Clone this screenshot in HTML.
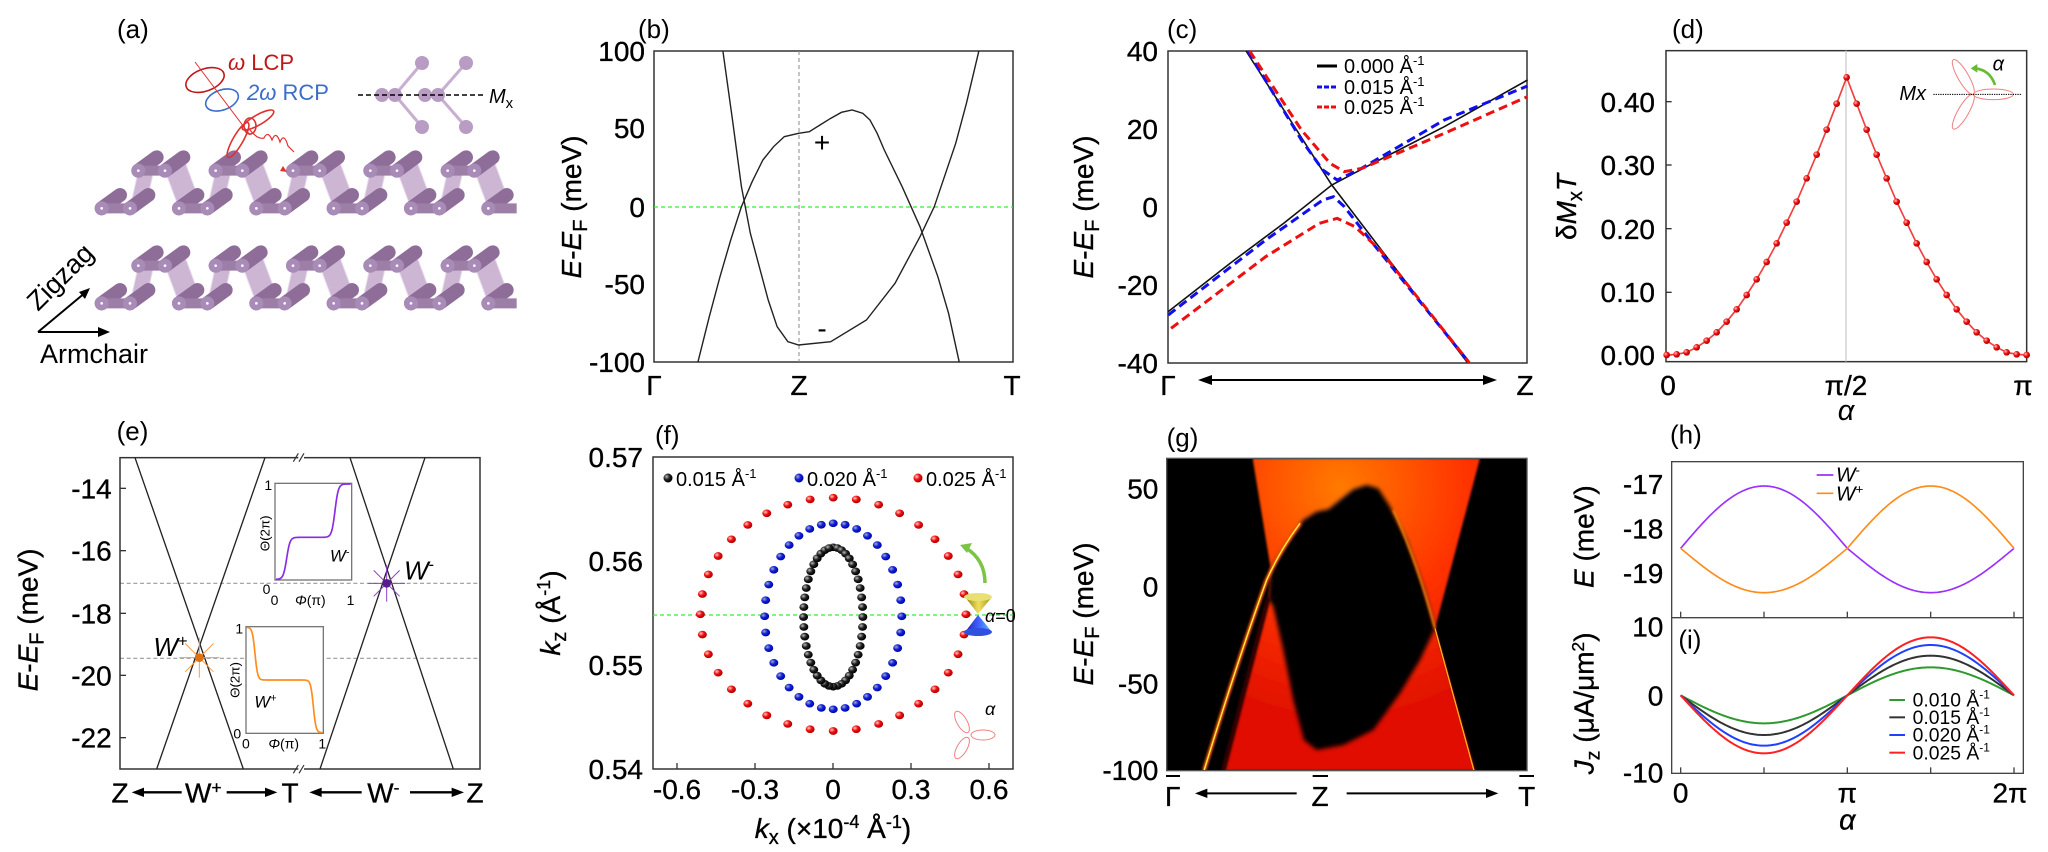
<!DOCTYPE html>
<html><head><meta charset="utf-8"><style>
html,body{margin:0;padding:0;background:#fff}
svg{display:block}
text{font-family:"Liberation Sans",Arial,sans-serif;fill:#000}
.t{font-size:28px;stroke:#000;stroke-width:0.35px}
.it{font-style:italic}
.big{stroke:#000;stroke-width:1px}
</style></head><body>
<svg id="S" width="2048" height="852" viewBox="0 0 2048 852" xmlns="http://www.w3.org/2000/svg">
<defs>
<radialGradient id="gk" cx="35%" cy="35%" r="65%"><stop offset="0" stop-color="#bbb"/><stop offset=".5" stop-color="#222"/><stop offset="1" stop-color="#000"/></radialGradient>
<radialGradient id="gb" cx="35%" cy="35%" r="65%"><stop offset="0" stop-color="#aab"/><stop offset=".5" stop-color="#1020e0"/><stop offset="1" stop-color="#0008a0"/></radialGradient>
<radialGradient id="gr" cx="35%" cy="35%" r="65%"><stop offset="0" stop-color="#fcc"/><stop offset=".5" stop-color="#f01010"/><stop offset="1" stop-color="#b00000"/></radialGradient>
<radialGradient id="gheat" cx="720" cy="260" r="700" gradientUnits="userSpaceOnUse"><stop offset="0" stop-color="#ff7a00"/><stop offset=".55" stop-color="#ff3300"/><stop offset="1" stop-color="#e01000"/></radialGradient>
<filter id="bl" x="-20%" y="-20%" width="140%" height="140%"><feGaussianBlur stdDeviation="6"/></filter>
<filter id="bl2"><feGaussianBlur stdDeviation="3"/></filter>
<clipPath id="gclip"><rect x="200" y="175" width="1081" height="937"/></clipPath>
<linearGradient id="cone1" x1="0" y1="0" x2="1" y2="0"><stop offset="0" stop-color="#8a7a10"/><stop offset=".5" stop-color="#f0e060"/><stop offset="1" stop-color="#a09020"/></linearGradient>
<linearGradient id="cone2" x1="0" y1="0" x2="1" y2="0"><stop offset="0" stop-color="#2020a0"/><stop offset=".5" stop-color="#4060ff"/><stop offset="1" stop-color="#60c0ff"/></linearGradient>
</defs>

<!-- ============ (a) ============ -->
<g id="ga" transform="scale(0.33333)"></g>
<text x="117" y="38" font-size="26">(a)</text>
<text x="228" y="70" font-size="22" style="fill:#c01818"><tspan class="it">ω</tspan> LCP</text>
<text x="247" y="100" font-size="22" style="fill:#3a6ec8"><tspan class="it">2ω</tspan> RCP</text>
<g fill="none" stroke-width="1.6">
<ellipse cx="205" cy="80" rx="20" ry="11" stroke="#c01818" transform="rotate(-20 205 80)"/>
<ellipse cx="222" cy="100" rx="17" ry="10" stroke="#3a6ec8" transform="rotate(-20 222 100)"/>
<line x1="195" y1="62" x2="250" y2="135" stroke="#e03030" stroke-width="1"/>
<ellipse cx="258" cy="120" rx="18" ry="5" stroke="#e03030" transform="rotate(-30 258 120)"/>
<ellipse cx="238" cy="140" rx="20" ry="5" stroke="#e03030" transform="rotate(-60 238 140)"/>
<ellipse cx="250" cy="126" rx="6" ry="8" stroke="#e03030"/>
<path d="M250,130 q8,10 14,8 q4,-8 8,2 q4,-10 8,2 q4,-10 8,4 l6,6" stroke="#e03030" stroke-width="1.2"/>
</g>
<polygon points="283,166 287,172 280,171" fill="#e03030"/>
<g stroke="#c8aed0" stroke-width="3">
<line x1="395" y1="95" x2="422" y2="63"/><line x1="395" y1="95" x2="422" y2="127"/>
<line x1="438" y1="95" x2="466" y2="63"/><line x1="438" y1="95" x2="466" y2="127"/>
</g>
<g fill="#b89cc4">
<circle cx="382" cy="95" r="7"/><circle cx="395" cy="95" r="7"/><circle cx="425" cy="95" r="7"/><circle cx="438" cy="95" r="7"/>
<circle cx="422" cy="63" r="7"/><circle cx="466" cy="63" r="7"/><circle cx="422" cy="127" r="7"/><circle cx="466" cy="127" r="7"/>
</g>
<line x1="358" y1="95" x2="485" y2="95" stroke="#000" stroke-width="1.5" stroke-dasharray="5 3"/>
<text x="489" y="103" font-size="20" class="it">M<tspan font-size="15" dy="5" font-style="normal">x</tspan></text>
<g stroke="#000" stroke-width="2" fill="none">
<line x1="38" y1="332" x2="104" y2="332"/><line x1="38" y1="332" x2="86" y2="292"/>
</g>
<polygon points="110,332 98,327 98,337" fill="#000"/><polygon points="90,288 79,292 85,299" fill="#000"/>
<text x="0" y="0" font-size="27" transform="translate(38,312) rotate(-45)">Zigzag</text>
<text x="40" y="363" font-size="27">Armchair</text>

<!-- ============ (b) ============ -->
<text x="638" y="38" font-size="26">(b)</text>
<rect x="654" y="51" width="359" height="311" fill="none" stroke="#333" stroke-width="1.5"/>
<line x1="654" y1="207" x2="1013" y2="207" stroke="#33ee33" stroke-width="1.2" stroke-dasharray="4 3"/>
<line x1="799" y1="51" x2="799" y2="362" stroke="#888" stroke-width="1" stroke-dasharray="4 3"/>
<g transform="translate(420,0) scale(0.357143,0.333333)" fill="none" stroke="#222" stroke-width="1.4">
<polyline vector-effect="non-scaling-stroke" points="848,152 875,360 900,560 925,700 950,800 975,900 1000,980 1030,1025 1060,1035 1150,1025 1250,960 1330,850 1400,710 1440,620 1500,430 1530,310 1565,152"/>
<polyline vector-effect="non-scaling-stroke" points="778,1087 810,950 840,830 870,720 900,620 930,545 960,480 990,440 1020,410 1060,400 1090,395 1120,375 1150,355 1180,337 1210,330 1240,340 1260,360 1280,400 1300,450 1350,560 1400,680 1450,830 1480,940 1510,1087"/>
</g>
<g class="t" text-anchor="end">
<text x="645" y="61">100</text><text x="645" y="138">50</text><text x="645" y="217">0</text><text x="645" y="294">-50</text><text x="645" y="372">-100</text>
</g>
<text x="822" y="152" font-size="28" text-anchor="middle">+</text>
<text x="822" y="338" font-size="28" text-anchor="middle">-</text>
<g class="t" text-anchor="middle"><text x="654" y="395">Γ</text><text x="799" y="395">Z</text><text x="1012" y="395">T</text></g>
<text class="t" transform="translate(581,207) rotate(-90)" text-anchor="middle"><tspan class="it">E</tspan>-<tspan class="it">E</tspan><tspan font-size="20" dy="6">F</tspan><tspan dy="-6"> (meV)</tspan></text>

<!-- ============ (c) ============ -->
<text x="1167" y="38" font-size="26">(c)</text>
<rect x="1168" y="51" width="359" height="312" fill="none" stroke="#333" stroke-width="1.5"/>
<g transform="translate(980,0) scale(0.357143,0.333333)" fill="none">
<polyline vector-effect="non-scaling-stroke" stroke="#111" stroke-width="1.6" points="745,153 985,555 1365,1088"/>
<polyline vector-effect="non-scaling-stroke" stroke="#111" stroke-width="1.6" points="527,935 700,790 850,670 985,555 1100,490 1300,380 1533,240"/>
<polyline vector-effect="non-scaling-stroke" stroke="#1010ee" stroke-width="3" stroke-dasharray="9 5" points="750,153 900,420 960,510 1000,540 1060,510 1300,360 1533,258"/>
<polyline vector-effect="non-scaling-stroke" stroke="#1010ee" stroke-width="3" stroke-dasharray="9 5" points="527,945 800,720 960,600 990,590 1020,620 1100,730 1370,1088"/>
<polyline vector-effect="non-scaling-stroke" stroke="#ee1010" stroke-width="3" stroke-dasharray="9 5" points="755,153 900,390 980,490 1020,515 1070,505 1300,400 1533,290"/>
<polyline vector-effect="non-scaling-stroke" stroke="#ee1010" stroke-width="3" stroke-dasharray="9 5" points="535,985 800,770 950,670 1000,655 1050,680 1120,750 1370,1088"/>
</g>
<line x1="1317" y1="66" x2="1337" y2="66" stroke="#000" stroke-width="3"/>
<line x1="1317" y1="87" x2="1337" y2="87" stroke="#1010ee" stroke-width="3" stroke-dasharray="5 2"/>
<line x1="1317" y1="107" x2="1337" y2="107" stroke="#ee1010" stroke-width="3" stroke-dasharray="5 2"/>
<g font-size="20"><text x="1344" y="73">0.000 Å<tspan font-size="13" dy="-8">-1</tspan></text>
<text x="1344" y="94">0.015 Å<tspan font-size="13" dy="-8">-1</tspan></text>
<text x="1344" y="114">0.025 Å<tspan font-size="13" dy="-8">-1</tspan></text></g>
<g class="t" text-anchor="end">
<text x="1158" y="61">40</text><text x="1158" y="139">20</text><text x="1158" y="217">0</text><text x="1158" y="295">-20</text><text x="1158" y="373">-40</text>
</g>
<g class="t" text-anchor="middle"><text x="1168" y="395">Γ</text><text x="1525" y="395">Z</text></g>
<line x1="1205" y1="380" x2="1490" y2="380" stroke="#000" stroke-width="2"/>
<polygon points="1198,380 1212,375 1212,385" fill="#000"/><polygon points="1497,380 1483,375 1483,385" fill="#000"/>
<text class="t" transform="translate(1093,207) rotate(-90)" text-anchor="middle"><tspan class="it">E</tspan>-<tspan class="it">E</tspan><tspan font-size="20" dy="6">F</tspan><tspan dy="-6"> (meV)</tspan></text>

<!-- ============ (d) ============ -->
<text x="1672" y="38" font-size="26">(d)</text>
<g transform="translate(1540,0) scale(0.333333)" id="gd">
<rect x="378" y="152" width="1082" height="933" fill="none" stroke="#333" stroke-width="4.5"/>
<line x1="918" y1="152" x2="918" y2="1085" stroke="#ccc" stroke-width="4"/>
<g stroke="#333" stroke-width="4"><line x1="378" y1="305" x2="395" y2="305"/><line x1="378" y1="495" x2="395" y2="495"/><line x1="378" y1="686" x2="395" y2="686"/><line x1="378" y1="877" x2="395" y2="877"/><line x1="378" y1="1065" x2="395" y2="1065"/></g>
<g fill="none" stroke="#f08080" stroke-width="3">
<ellipse cx="1360" cy="283" rx="60" ry="16"/>
<ellipse cx="1360" cy="283" rx="60" ry="16" transform="rotate(-120 1300 283)"/>
<ellipse cx="1360" cy="283" rx="60" ry="16" transform="rotate(120 1300 283)"/>
</g>
<line x1="1180" y1="283" x2="1445" y2="283" stroke="#000" stroke-width="3" stroke-dasharray="4 3"/>
<path d="M1365,255 Q1350,210 1305,205" fill="none" stroke="#66bb33" stroke-width="8"/>
<polygon points="1292,205 1312,192 1312,218" fill="#66bb33"/>
<text x="1358" y="212" font-size="60" class="it">α</text>
<text x="1078" y="300" font-size="60" class="it">Mx</text>
</g>
<g class="t" text-anchor="end"><text x="1655" y="112">0.40</text><text x="1655" y="175">0.30</text><text x="1655" y="239">0.20</text><text x="1655" y="302">0.10</text><text x="1655" y="365">0.00</text></g>
<g class="t" text-anchor="middle"><text x="1668" y="395">0</text><text x="1846" y="395">π/2</text><text x="2023" y="395">π</text></g>
<text x="1846" y="420" font-size="29" class="it" text-anchor="middle">α</text>
<text class="t" transform="translate(1576,207) rotate(-90)" text-anchor="middle">δ<tspan class="it">M</tspan><tspan font-size="20" dy="6">x</tspan><tspan dy="-6" class="it">T</tspan></text>

<!-- ============ (e) ============ -->
<g transform="translate(0,420) scale(0.333333)" id="ge">
<text x="350" y="60" font-size="78">(e)</text>
<line x1="360" y1="490" x2="1440" y2="490" stroke="#999" stroke-width="3.5" stroke-dasharray="12 8"/>
<line x1="360" y1="715" x2="1440" y2="715" stroke="#999" stroke-width="3.5" stroke-dasharray="12 8"/>
<rect x="360" y="113" width="1080" height="934" fill="none" stroke="#333" stroke-width="4.5"/>
<g stroke="#fff" stroke-width="14"><line x1="895" y1="113" x2="912" y2="113"/><line x1="895" y1="1047" x2="912" y2="1047"/></g>
<g stroke="#333" stroke-width="3.5"><line x1="880" y1="125" x2="895" y2="100"/><line x1="897" y1="125" x2="912" y2="100"/><line x1="880" y1="1060" x2="895" y2="1035"/><line x1="897" y1="1060" x2="912" y2="1035"/></g>
<g stroke="#222" stroke-width="4" fill="none">
<line x1="405" y1="113" x2="730" y2="1047"/><line x1="795" y1="113" x2="470" y2="1047"/>
<line x1="1050" y1="113" x2="1360" y2="1047"/><line x1="960" y1="1047" x2="1275" y2="113"/>
</g>
<g stroke="#333" stroke-width="4"><line x1="360" y1="205" x2="378" y2="205"/><line x1="360" y1="392" x2="378" y2="392"/><line x1="360" y1="580" x2="378" y2="580"/><line x1="360" y1="766" x2="378" y2="766"/><line x1="360" y1="953" x2="378" y2="953"/></g>
<g font-size="84" text-anchor="end" class="big"><text x="335" y="235">-14</text><text x="335" y="422">-16</text><text x="335" y="610">-18</text><text x="335" y="796">-20</text><text x="335" y="983">-22</text></g>
<rect x="825" y="190" width="230" height="290" fill="#fff" stroke="#777" stroke-width="4"/>
<polyline id="ins1" fill="none" stroke="#8a2be2" stroke-width="5"/>
<g font-size="42"><text x="793" y="210">1</text><text x="788" y="522">0</text><text x="812" y="555">0</text><text x="1040" y="555">1</text><text x="885" y="555" class="it">Φ<tspan font-style="normal">(π)</tspan></text><text x="990" y="425" font-size="50" class="it">W<tspan font-size="32" dy="-18">-</tspan></text></g>
<text font-size="40" transform="translate(808,340) rotate(-90)" text-anchor="middle">Θ(2π)</text>
<rect x="738" y="620" width="232" height="320" fill="#fff" stroke="#777" stroke-width="4"/>
<polyline id="ins2" fill="none" stroke="#ff8c1a" stroke-width="5"/>
<g font-size="42"><text x="706" y="640">1</text><text x="700" y="955">0</text><text x="726" y="985">0</text><text x="955" y="985">1</text><text x="805" y="985" class="it">Φ<tspan font-style="normal">(π)</tspan></text><text x="763" y="862" font-size="50" class="it">W<tspan font-size="32" dy="-18">+</tspan></text></g>
<text font-size="40" transform="translate(718,780) rotate(-90)" text-anchor="middle">Θ(2π)</text>
<g stroke="#ff9a40" stroke-width="3" id="wplus"></g>
<circle cx="598" cy="713" r="13" fill="#e07010"/>
<g stroke="#8a40d0" stroke-width="3" id="wminus"></g>
<circle cx="1160" cy="490" r="13" fill="#5a1a90"/>
<text x="460" y="708" font-size="78" class="it">W<tspan font-size="50" dy="-28" font-style="normal">+</tspan></text>
<text x="1212" y="478" font-size="78" class="it">W<tspan font-size="50" dy="-28" font-style="normal">-</tspan></text>
<g font-size="84" text-anchor="middle" class="big"><text x="360" y="1148">Z</text><text x="610" y="1148">W<tspan font-size="52" dy="-28">+</tspan></text><text x="870" y="1148">T</text><text x="1150" y="1148">W<tspan font-size="52" dy="-28">-</tspan></text><text x="1425" y="1148">Z</text></g>
<g stroke="#000" stroke-width="7"><line x1="410" y1="1117" x2="545" y2="1117"/><line x1="680" y1="1117" x2="815" y2="1117"/><line x1="945" y1="1117" x2="1085" y2="1117"/><line x1="1230" y1="1117" x2="1375" y2="1117"/></g>
<g fill="#000"><polygon points="395,1117 432,1103 432,1131"/><polygon points="832,1117 795,1103 795,1131"/><polygon points="928,1117 965,1103 965,1131"/><polygon points="1392,1117 1355,1103 1355,1131"/></g>
<text font-size="84" class="big" transform="translate(112,600) rotate(-90)" text-anchor="middle"><tspan class="it">E</tspan>-<tspan class="it">E</tspan><tspan font-size="60" dy="18">F</tspan><tspan dy="-18"> (meV)</tspan></text>
</g>

<!-- ============ (f) ============ -->
<text x="655" y="444" font-size="26">(f)</text>
<rect x="653" y="457" width="360" height="312" fill="none" stroke="#333" stroke-width="1.5"/>
<line x1="653" y1="615" x2="1013" y2="615" stroke="#33ee33" stroke-width="1.3" stroke-dasharray="4 3"/>
<g id="gf" transform="translate(420,420) scale(0.357143,0.333333)"></g>
<g stroke="#333" stroke-width="1.3"><line x1="677" y1="769" x2="677" y2="763"/><line x1="755" y1="769" x2="755" y2="763"/><line x1="833" y1="769" x2="833" y2="763"/><line x1="911" y1="769" x2="911" y2="763"/><line x1="989" y1="769" x2="989" y2="763"/></g>
<circle cx="668" cy="478" r="4.5" fill="url(#gk)"/><circle cx="799" cy="478" r="4.5" fill="url(#gb)"/><circle cx="918" cy="478" r="4.5" fill="url(#gr)"/>
<g font-size="20"><text x="676" y="486">0.015 Å<tspan font-size="13" dy="-8">-1</tspan></text><text x="807" y="486">0.020 Å<tspan font-size="13" dy="-8">-1</tspan></text><text x="926" y="486">0.025 Å<tspan font-size="13" dy="-8">-1</tspan></text></g>
<path d="M965,597 L992,597 L978,614 Z" fill="url(#cone1)"/><ellipse cx="978" cy="597" rx="14" ry="4" fill="#e8e070"/>
<path d="M965,632 L992,632 L978,615 Z" fill="url(#cone2)"/><ellipse cx="978" cy="632" rx="14" ry="4" fill="#3050e0"/>
<text x="985" y="622" font-size="18" class="it">α<tspan font-style="normal">=0</tspan></text>
<path d="M985,583 Q985,560 966,548" fill="none" stroke="#7cc544" stroke-width="3.5"/><polygon points="960,545 972,543 967,553" fill="#7cc544"/>
<g fill="none" stroke="#f08080" stroke-width="1"><ellipse cx="983" cy="735" rx="12" ry="5"/><ellipse cx="962" cy="722" rx="5" ry="12" transform="rotate(-30 962 722)"/><ellipse cx="962" cy="748" rx="5" ry="12" transform="rotate(30 962 748)"/></g>
<text x="985" y="715" font-size="18" class="it">α</text>
<g class="t" text-anchor="end"><text x="643" y="467">0.57</text><text x="643" y="571">0.56</text><text x="643" y="675">0.55</text><text x="643" y="779">0.54</text></g>
<g class="t" text-anchor="middle"><text x="677" y="799">-0.6</text><text x="755" y="799">-0.3</text><text x="833" y="799">0</text><text x="911" y="799">0.3</text><text x="989" y="799">0.6</text></g>
<text class="t" x="833" y="838" text-anchor="middle"><tspan class="it">k</tspan><tspan font-size="20" dy="6">x</tspan><tspan dy="-6"> (×10</tspan><tspan font-size="18" dy="-10">-4</tspan><tspan dy="10"> Å</tspan><tspan font-size="18" dy="-10">-1</tspan><tspan dy="10">)</tspan></text>
<text class="t" transform="translate(560,613) rotate(-90)" text-anchor="middle"><tspan class="it">k</tspan><tspan font-size="20" dy="6">z</tspan><tspan dy="-6"> (Å</tspan><tspan font-size="18" dy="-10">-1</tspan><tspan dy="10">)</tspan></text>

<!-- ============ (g) ============ -->
<g transform="translate(1100,400) scale(0.333333)">
<text x="200" y="140" font-size="78">(g)</text>
<g clip-path="url(#gclip)">
<rect x="200" y="175" width="1081" height="937" fill="#000"/>
<polygon points="458,175 1140,175 1005,685 1125,1112 370,1112 505,595 512,505" fill="url(#gheat)" filter="url(#bl2)"/>
<path d="M505,595 L370,1112" stroke="#300000" stroke-width="14" fill="none" filter="url(#bl2)"/>
<polygon points="512,505 560,430 610,360 650,335 685,328 720,300 760,268 800,255 835,265 870,320 920,420 970,560 1005,685 960,780 900,880 820,990 730,1035 650,1050 612,1020 580,900 550,750 520,620 505,595" fill="#000" filter="url(#bl)"/>
<path d="M312,1112 Q420,760 500,540 Q540,450 600,370" stroke="#ff5a00" stroke-width="12" fill="none" filter="url(#bl2)"/>
<path d="M312,1112 Q420,760 500,540 Q540,450 600,370" stroke="#ffee40" stroke-width="4" fill="none"/>
<path d="M1005,685 L1122,1112" stroke="#ffb020" stroke-width="4" fill="none"/>
<path d="M880,330 Q950,480 1005,685" stroke="#ff8a10" stroke-width="6" fill="none" filter="url(#bl2)"/>
</g>
<rect x="200" y="175" width="1081" height="937" fill="none" stroke="#555" stroke-width="4"/>
<g font-size="84" text-anchor="end" class="big"><text x="175" y="295">50</text><text x="175" y="590">0</text><text x="175" y="880">-50</text><text x="175" y="1140">-100</text></g>
<g font-size="84" text-anchor="middle" class="big"><text x="218" y="1218">Γ</text><text x="660" y="1218">Z</text><text x="1280" y="1218">T</text></g>
<g stroke="#000" stroke-width="6"><line x1="198" y1="1128" x2="240" y2="1128"/><line x1="638" y1="1128" x2="684" y2="1128"/><line x1="1258" y1="1128" x2="1302" y2="1128"/>
<line x1="300" y1="1180" x2="590" y2="1180"/><line x1="740" y1="1180" x2="1180" y2="1180"/></g>
<polygon points="285,1180 322,1166 322,1194" fill="#000"/><polygon points="1195,1180 1158,1166 1158,1194" fill="#000"/>
</g>
<text class="t" transform="translate(1093,614) rotate(-90)" text-anchor="middle"><tspan class="it">E</tspan>-<tspan class="it">E</tspan><tspan font-size="20" dy="6">F</tspan><tspan dy="-6"> (meV)</tspan></text>

<!-- ============ (h)(i) ============ -->
<g transform="translate(1560,430) scale(0.333333)" id="ghi">
<text x="330" y="40" font-size="78">(h)</text>
<rect x="335" y="95" width="1055" height="935" fill="none" stroke="#444" stroke-width="4"/>
<line x1="335" y1="563" x2="1390" y2="563" stroke="#444" stroke-width="4"/>
<g stroke="#444" stroke-width="4" id="hticks"></g>
<g font-size="84" text-anchor="end" class="big"><text x="310" y="192">-17</text><text x="310" y="325">-18</text><text x="310" y="459">-19</text><text x="310" y="620">10</text><text x="310" y="826">0</text><text x="310" y="1058">-10</text></g>
<text x="355" y="655" font-size="78">(i)</text>
<line x1="770" y1="135" x2="820" y2="135" stroke="#9b30ff" stroke-width="5"/>
<line x1="770" y1="190" x2="820" y2="190" stroke="#ff8c1a" stroke-width="5"/>
<text x="828" y="155" font-size="62" class="it">W<tspan font-size="40" dy="-22" font-style="normal">-</tspan></text>
<text x="828" y="212" font-size="62" class="it">W<tspan font-size="40" dy="-22" font-style="normal">+</tspan></text>
<g stroke-width="6"><line x1="988" y1="810" x2="1035" y2="810" stroke="#2e9a2e"/><line x1="988" y1="862" x2="1035" y2="862" stroke="#333"/><line x1="988" y1="915" x2="1035" y2="915" stroke="#2040ff"/><line x1="988" y1="968" x2="1035" y2="968" stroke="#ff2020"/></g>
<g font-size="58"><text x="1058" y="830">0.010 Å<tspan font-size="36" dy="-24">-1</tspan></text><text x="1058" y="882">0.015 Å<tspan font-size="36" dy="-24">-1</tspan></text><text x="1058" y="935">0.020 Å<tspan font-size="36" dy="-24">-1</tspan></text><text x="1058" y="988">0.025 Å<tspan font-size="36" dy="-24">-1</tspan></text></g>
<g font-size="84" text-anchor="middle" class="big"><text x="362" y="1118">0</text><text x="862" y="1118">π</text><text x="1350" y="1118">2π</text></g>
<text x="862" y="1198" font-size="86" class="it big" text-anchor="middle">α</text>
<text font-size="84" class="big" transform="translate(100,320) rotate(-90)" text-anchor="middle"><tspan class="it">E</tspan> (meV)</text>
<text font-size="84" class="big" transform="translate(100,820) rotate(-90)" text-anchor="middle"><tspan class="it">J</tspan><tspan font-size="58" dy="18">z</tspan><tspan dy="-18"> (μA/μm</tspan><tspan font-size="52" dy="-28">2</tspan><tspan dy="28">)</tspan></text>
</g>
</svg>
<script>
(function(){
var NS="http://www.w3.org/2000/svg";
function el(p,n,a){var e=document.createElementNS(NS,n);for(var k in a)e.setAttribute(k,a[k]);p.appendChild(e);return e;}
function pts(arr){return arr.map(function(p){return p[0].toFixed(1)+","+p[1].toFixed(1)}).join(" ");}
var ga=document.getElementById("ga");
function layer(dy){
 var lows=[],ups=[];
 for(var k=0;k<6;k++){var b=305+232*k;lows.push([b,625+dy],[b+85,625+dy]);var u=415+232*k;ups.push([u,512+dy],[u+80,512+dy]);}
 for(var k=0;k<6;k++){
  var lr=[390+232*k,625+dy],ul=[415+232*k,512+dy],ur=[495+232*k,512+dy],nl=[537+232*k,625+dy];
  [[lr,ul],[ur,nl]].forEach(function(pr){
   if(pr[1][0]>1540||pr[0][0]>1540)return;
   el(ga,"polygon",{points:pts([pr[0],pr[1],[pr[1][0]+55,pr[1][1]-40],[pr[0][0]+55,pr[0][1]-40]]),fill:"#cdb6d3",stroke:"#e8dcec","stroke-width":3});
  });
 }
 lows.concat(ups).forEach(function(p){ if(p[0]>1540)return;
  el(ga,"line",{x1:p[0],y1:p[1],x2:p[0]+55,y2:p[1]-40,stroke:"#8e6e99","stroke-width":42,"stroke-linecap":"round"});
 });
 for(var i=0;i<lows.length;i+=2){ if(lows[i][0]>1540)continue; el(ga,"line",{x1:lows[i][0],y1:lows[i][1],x2:lows[i+1][0],y2:lows[i+1][1],stroke:"#9c7ea6","stroke-width":30});}
 for(var i=0;i<ups.length;i+=2){ if(ups[i][0]>1540)continue; el(ga,"line",{x1:ups[i][0],y1:ups[i][1],x2:ups[i+1][0],y2:ups[i+1][1],stroke:"#9c7ea6","stroke-width":30});}
 lows.concat(ups).forEach(function(p){ if(p[0]>1540)return;
  el(ga,"circle",{cx:p[0],cy:p[1],r:21,fill:"#a98bb8"});
  el(ga,"circle",{cx:p[0],cy:p[1],r:4,fill:"#fff"});
 });
}
layer(0);layer(285);
var gd=document.getElementById("gd");
var half=[1065,1063,1057,1042,1022,997,965,928,885,838,786,730,668,605,535,464,389,311,232];
var dp=[];for(var i=0;i<19;i++)dp.push([380+30*i,half[i]]);for(var j=1;j<19;j++)dp.push([920+30*j,half[18-j]]);
el(gd,"polyline",{points:pts(dp),fill:"none",stroke:"#f04040","stroke-width":5});
dp.forEach(function(p){el(gd,"circle",{cx:p[0],cy:p[1],r:10,fill:"url(#gr)"});});
function sig(x){return 1/(1+Math.exp(-x));}
var a1=[],a2=[];
for(var x=828;x<=1052;x+=2)a1.push([x,478-126*sig((x-860)/5)-160*sig((x-1005)/5)]);
for(var x=741;x<=967;x+=2)a2.push([x,622+158*sig((x-765)/4)+158*sig((x-940)/4)]);
document.getElementById("ins1").setAttribute("points",pts(a1));
document.getElementById("ins2").setAttribute("points",pts(a2));
function star(g,cx,cy,r){for(var k=0;k<8;k++){var t=k*Math.PI/4;el(g,"line",{x1:cx,y1:cy,x2:cx+r*Math.cos(t),y2:cy+r*Math.sin(t)});}}
star(document.getElementById("wplus"),598,713,60);
star(document.getElementById("wminus"),1160,490,55);
var gf=document.getElementById("gf");
function ring(cx,cy,rx,ry,n,fill){for(var i=0;i<n;i++){var t=2*Math.PI*i/n;el(gf,"ellipse",{cx:cx+rx*Math.sin(t),cy:cy-ry*Math.cos(t),rx:12.5,ry:11.5,fill:fill});}}
ring(1157,591,83,209,44,"url(#gk)");
ring(1157,589,192,279,36,"url(#gb)");
ring(1157,583,372,350,36,"url(#gr)");
var gh=document.getElementById("ghi");
function X(a){return 362+1000*a/(2*Math.PI);}
var pu=[],or=[];var cur=[[],[],[],[]];var A=[84,119,151,174];
for(var i=0;i<=200;i++){var a=2*Math.PI*i/200,s=Math.sin(a);
 pu.push([X(a),355-(s>0?187:133)*s]);or.push([X(a),355+(s>0?133:187)*s]);
 for(var k=0;k<4;k++)cur[k].push([X(a),796+A[k]*s]);}
el(gh,"polyline",{points:pts(pu),fill:"none",stroke:"#9b30ff","stroke-width":5});
el(gh,"polyline",{points:pts(or),fill:"none",stroke:"#ff8c1a","stroke-width":5});
var cc=["#2e9a2e","#333","#2040ff","#ff2020"];
for(var k=0;k<4;k++)el(gh,"polyline",{points:pts(cur[k]),fill:"none",stroke:cc[k],"stroke-width":6});
var ht=document.getElementById("hticks");
[362,612,862,1112,1362].forEach(function(x){el(ht,"line",{x1:x,y1:545,x2:x,y2:563});el(ht,"line",{x1:x,y1:1012,x2:x,y2:1030});});
})();
</script>
</body></html>
